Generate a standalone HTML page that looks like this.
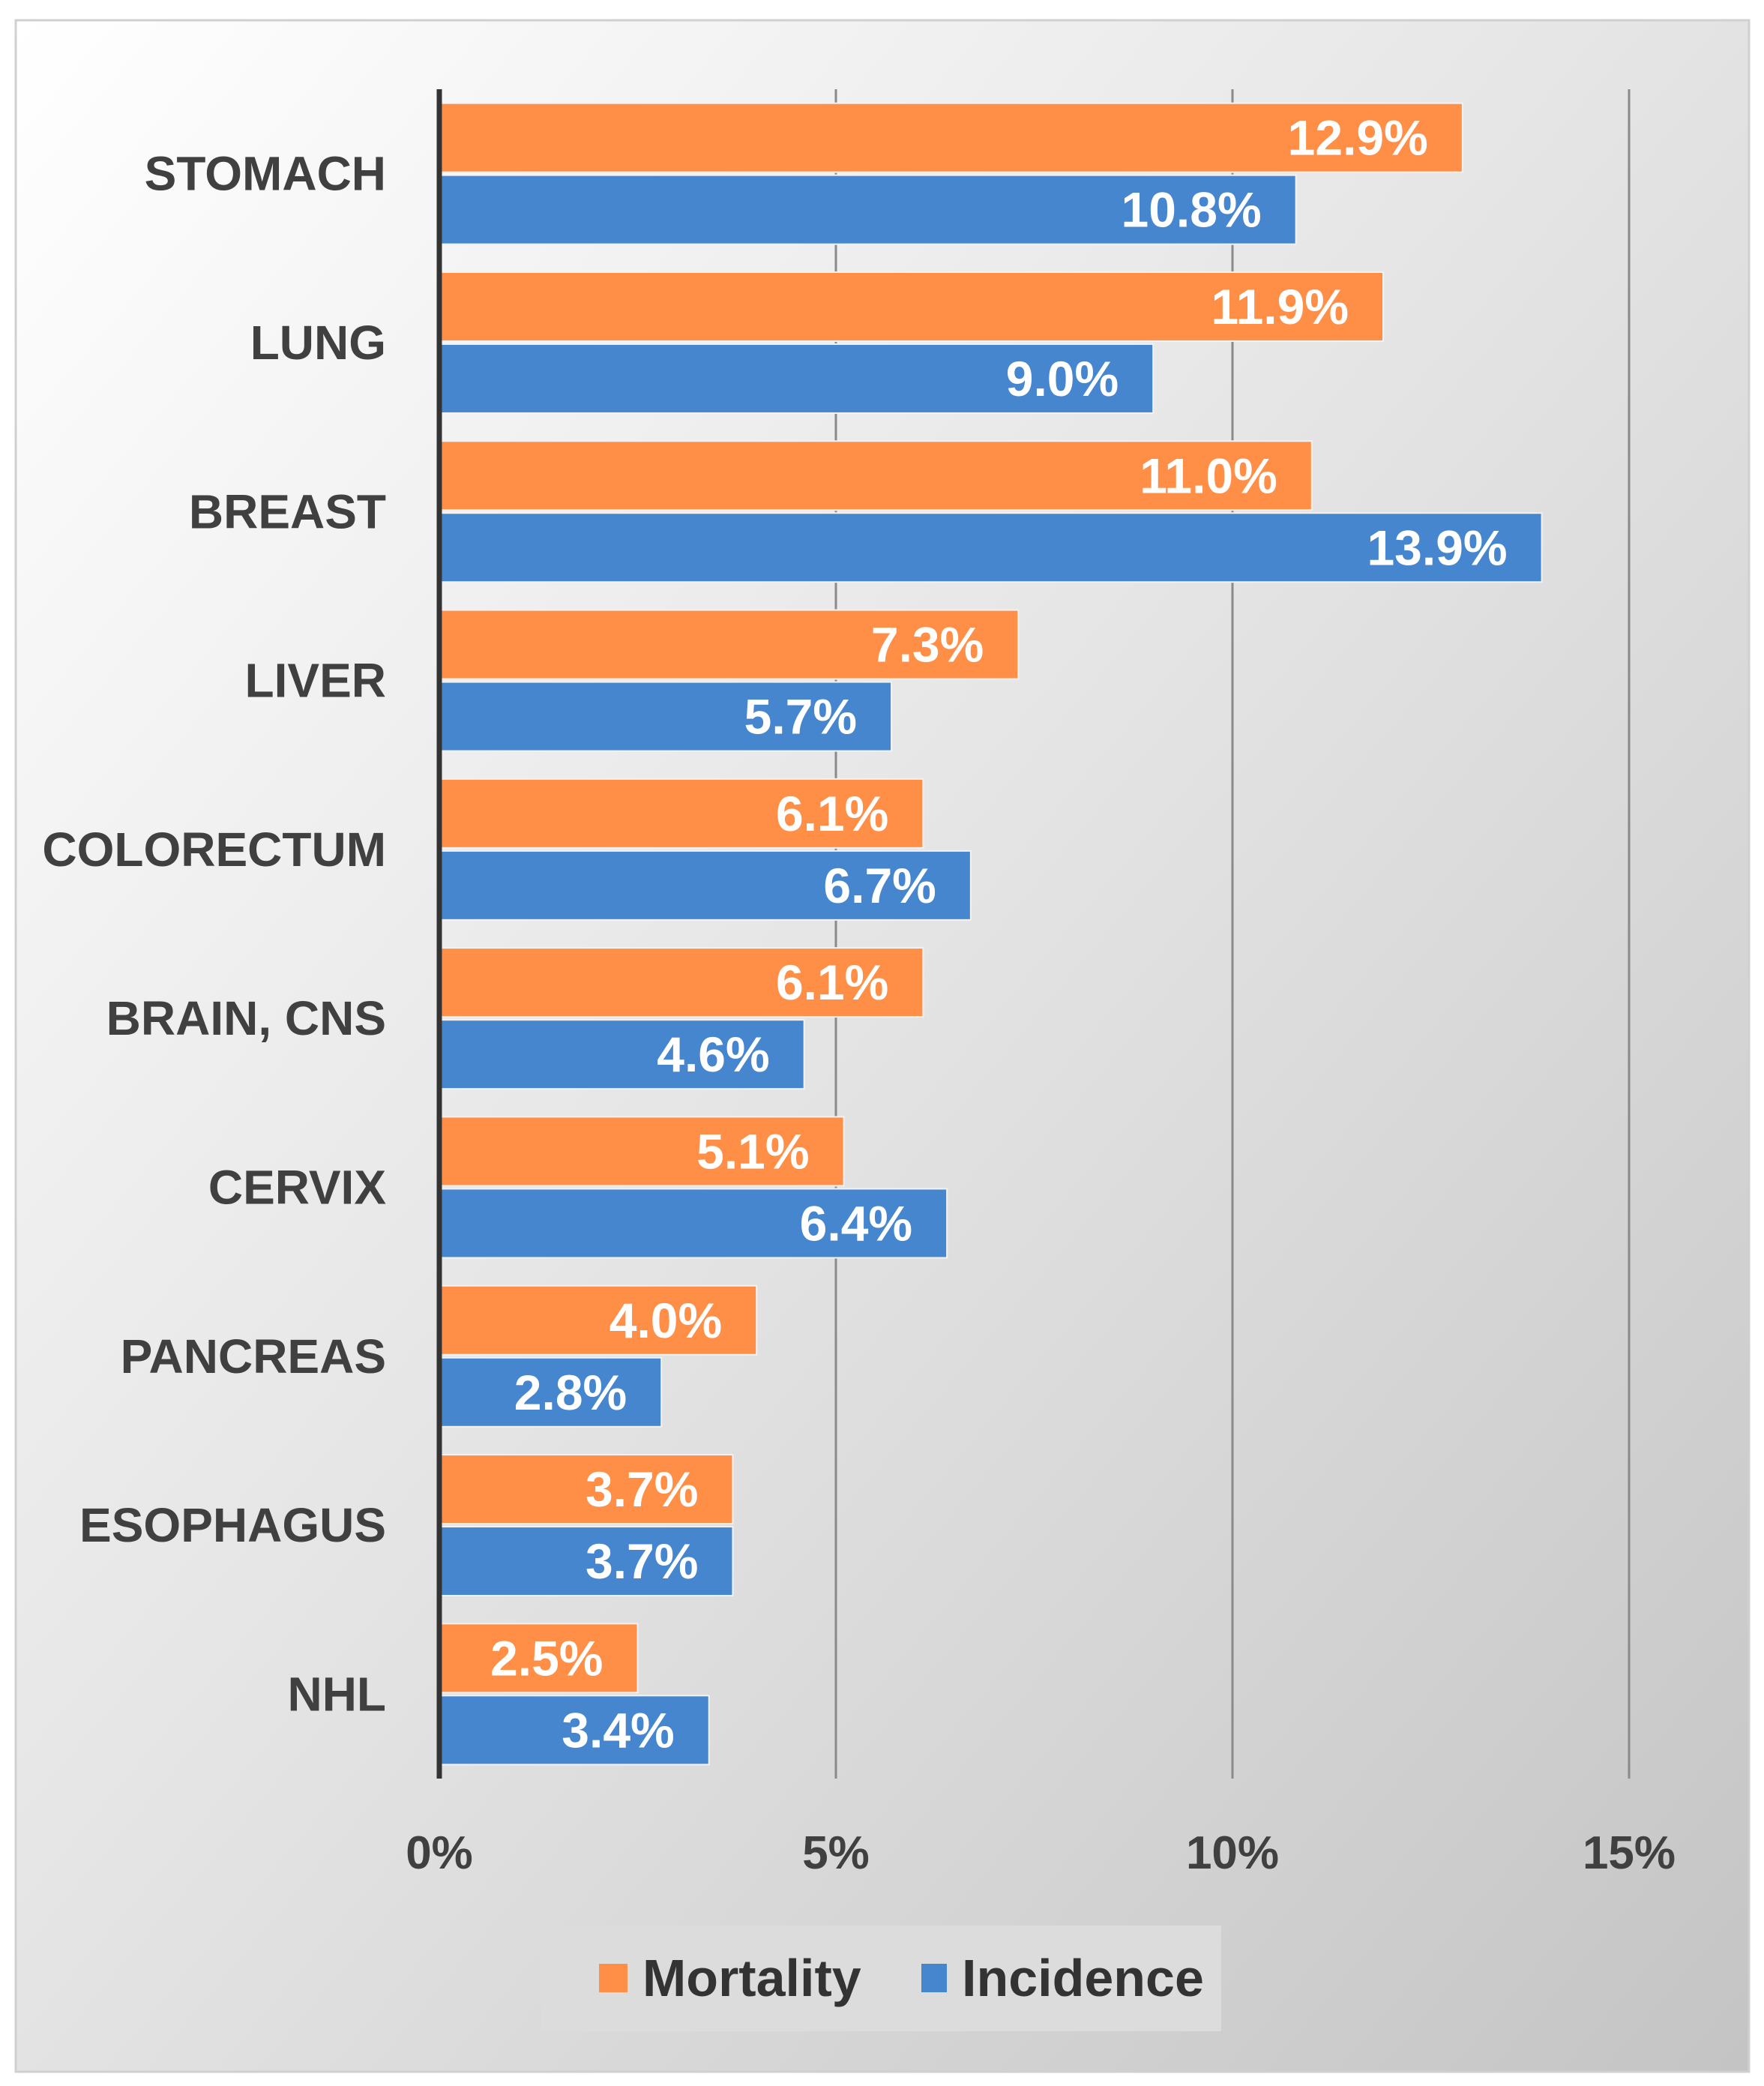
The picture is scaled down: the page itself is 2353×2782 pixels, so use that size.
<!DOCTYPE html>
<html><head><meta charset="utf-8">
<style>
html,body{margin:0;padding:0;background:#fff;}
svg{display:block;}
text{font-family:"Liberation Sans",sans-serif;font-weight:bold;}
</style></head>
<body>
<svg id="chart" width="2353" height="2782" viewBox="0 0 2353 2782" xmlns="http://www.w3.org/2000/svg">
<defs>
<linearGradient id="bg" x1="0" y1="0" x2="1" y2="1">
<stop offset="0" stop-color="#ffffff"/>
<stop offset="0.45" stop-color="#e6e6e6"/>
<stop offset="1" stop-color="#c4c4c4"/>
</linearGradient>
</defs>
<rect x="21" y="27" width="2312" height="2736" fill="url(#bg)" stroke="#d0d0d0" stroke-width="3"/>
<g id="grid"></g>
<g id="bars"></g>
<g id="labels"></g>
<g>
<rect x="721" y="2568" width="908" height="141" fill="#dcdcdc"/>
<rect x="799" y="2619" width="38" height="38" fill="#FF8F47"/>
<text x="857" y="2662" font-size="70" fill="#333">Mortality</text>
<rect x="1229" y="2619" width="34" height="38" fill="#4686CF"/>
<text x="1283" y="2662" font-size="70" fill="#333">Incidence</text>
</g>
</svg>
<script>
const categories = ["STOMACH","LUNG","BREAST","LIVER","COLORECTUM","BRAIN, CNS","CERVIX","PANCREAS","ESOPHAGUS","NHL"];
const mortality = [12.9,11.9,11.0,7.3,6.1,6.1,5.1,4.0,3.7,2.5];
const incidence = [10.8,9.0,13.9,5.7,6.7,4.6,6.4,2.8,3.7,3.4];
const ticks = [0,5,10,15];
const tickLabels = ["0%","5%","10%","15%"];

const NS = "http://www.w3.org/2000/svg";
const x0 = 586, pxPer = 105.8, plotTop = 119, plotBottom = 2372;
const band = (plotBottom - plotTop) / categories.length;
const barH = 92, gap = 4;
function xScale(v){ return x0 + v * pxPer; }
function yBand(i){ return plotTop + i * band; }
function mk(tag, attrs, parent){ const e = document.createElementNS(NS, tag); for (const k in attrs) e.setAttribute(k, attrs[k]); parent.appendChild(e); return e; }

const grid = document.getElementById('grid');
const bars = document.getElementById('bars');
const labels = document.getElementById('labels');

ticks.forEach((t, i) => {
  if (t > 0) {
    const l = mk('line', {x1: xScale(t), x2: xScale(t), y1: plotTop, y2: plotBottom, stroke: '#8a8a8a', 'stroke-width': 3}, grid);
    
    
  }
  const tx = mk('text', {x: xScale(t), y: 2492, 'font-size': 62, fill: '#404040', 'text-anchor': 'middle'}, labels);
  tx.textContent = tickLabels[i];
  
  
});

categories.forEach((c, i) => {
  const gy = yBand(i) + (band - (2 * barH + gap)) / 2;
  const series = [[mortality[i], '#FF8F47', 'mortality'], [incidence[i], '#4686CF', 'incidence']];
  series.forEach((s, j) => {
    const y = gy + j * (barH + gap);
    const r = mk('rect', {x: x0, y: y, width: xScale(s[0]) - x0, height: barH, fill: s[1], stroke: '#f2f2f2', 'stroke-width': 2}, bars);
    
    
    const v = mk('text', {x: xScale(s[0]) - 46, y: y + barH / 2 + 23, 'font-size': 66, fill: '#ffffff', 'text-anchor': 'end'}, labels);
    v.textContent = s[0].toFixed(1) + '%';
    
    
  });
  const t = mk('text', {x: 515, y: yBand(i) + band / 2 + 22, 'font-size': 64, fill: '#404040', 'text-anchor': 'end'}, labels);
  t.textContent = c;
  
  
});

const ax = mk('line', {x1: x0, x2: x0, y1: plotTop, y2: plotBottom, stroke: '#333', 'stroke-width': 7}, labels);


</script>
</body></html>
